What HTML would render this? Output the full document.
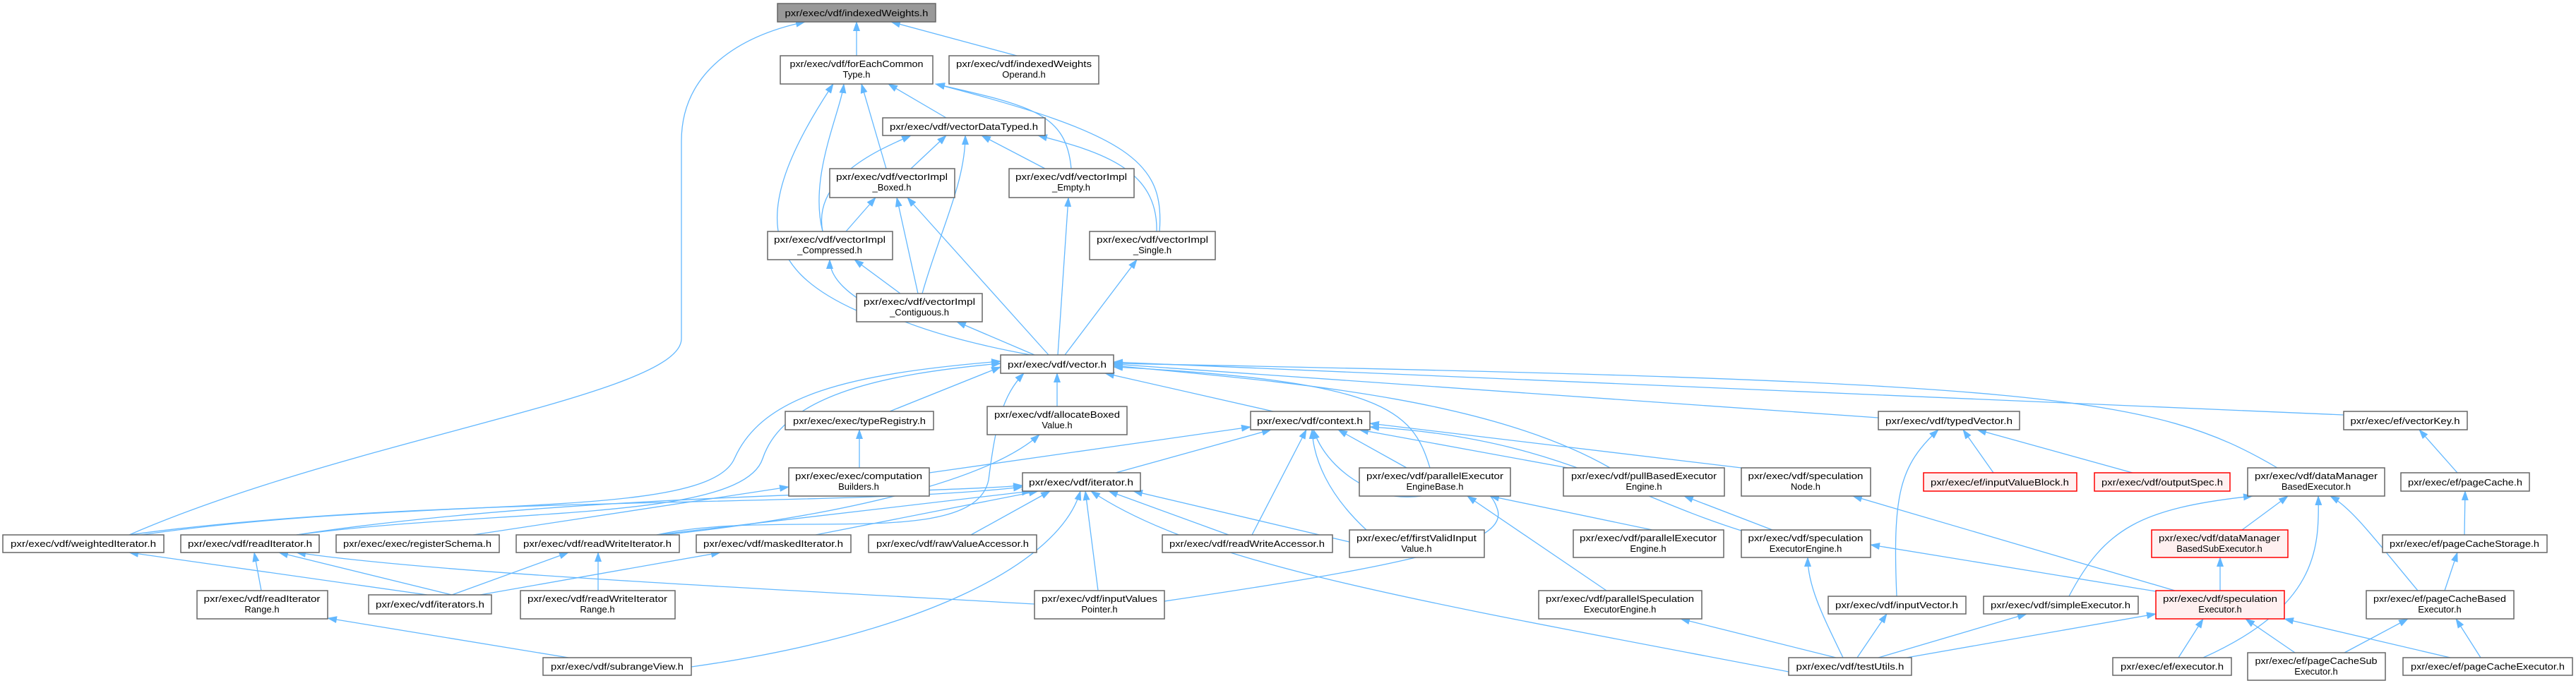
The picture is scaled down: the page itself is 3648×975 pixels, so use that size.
<!DOCTYPE html>
<html><head><meta charset="utf-8"><style>
html,body{margin:0;padding:0;background:#fff}
svg{display:block}
text{font-family:"Liberation Sans",sans-serif;font-size:13px;fill:#000}
.e{fill:none;stroke:#63b8ff;stroke-width:1.3}
.n{fill:#fff;stroke:#666;stroke-width:1.5}
.g{fill:#999;stroke:#666;stroke-width:1.5}
.r{fill:#fff0f0;stroke:#f00;stroke-width:1.5}
</style></head><body>
<svg width="3648" height="975" viewBox="0 0 3648 975" xmlns="http://www.w3.org/2000/svg">
<defs><marker id="a" markerWidth="14" markerHeight="10" refX="13" refY="5" orient="auto" markerUnits="userSpaceOnUse"><path d="M0,0 L14,5 L0,10 z" fill="#63b8ff"/></marker></defs>
<g class="e" marker-end="url(#a)">
<path d="M1213,79 L1213,31"/>
<path d="M1440,79 L1262,31"/>
<path d="M183,758 C500,620 965,560 965,480 L965,200 C965,100 1050,50 1140,31"/>
<path d="M1340,167 L1258,119"/>
<path d="M1255,239 L1220,119"/>
<path d="M1165,328 C1145,250 1190,160 1195,119"/>
<path d="M1213,440 C1080,380 1060,300 1180,119"/>
<path d="M1517,239 C1510,160 1460,150 1325,119"/>
<path d="M1642,328 C1650,230 1600,190 1325,119"/>
<path d="M1290,239 L1340,192"/>
<path d="M1480,239 L1390,192"/>
<path d="M1165,328 C1150,250 1250,210 1290,192"/>
<path d="M1306,416 C1330,330 1367,260 1367,192"/>
<path d="M1638,328 C1640,240 1560,215 1470,192"/>
<path d="M1198,328 L1240,280"/>
<path d="M1300,416 L1270,280"/>
<path d="M1485,503 L1285,280"/>
<path d="M1498,503 L1513,280"/>
<path d="M1275,416 L1210,368"/>
<path d="M1460,503 C1280,470 1175,420 1175,368"/>
<path d="M1508,503 L1610,368"/>
<path d="M1465,503 L1355,456"/>
<path d="M1260,583 L1417,520"/>
<path d="M1497,576 L1497,529"/>
<path d="M1803,583 L1565,529"/>
<path d="M200,758 C600,700 1000,740 1040,650 C1080,560 1200,530 1417,512"/>
<path d="M420,758 C700,720 1050,740 1080,650 C1110,560 1250,530 1417,515"/>
<path d="M930,758 C1100,720 1380,780 1400,680 C1410,600 1420,560 1450,529"/>
<path d="M2025,663 C2000,580 1960,540 1577,520"/>
<path d="M2280,663 C2100,560 1800,540 1577,518"/>
<path d="M2660,592 L1577,516"/>
<path d="M3225,663 C3050,560 2900,540 1577,515"/>
<path d="M3319,588 L1577,513"/>
<path d="M1316,670 L1771,605"/>
<path d="M1580,670 L1800,609"/>
<path d="M1773,758 L1850,609"/>
<path d="M1935,751 C1880,700 1860,650 1858,609"/>
<path d="M1992,663 L1895,609"/>
<path d="M2220,663 L1925,609"/>
<path d="M2466,663 L1940,600"/>
<path d="M2466,752 C2300,700 2200,620 1940,605"/>
<path d="M1649,852 C2000,800 2140,770 2120,720 C2100,660 2030,720 1960,700 C1900,680 1870,640 1860,609"/>
<path d="M183,758 C600,700 1200,720 1448,690"/>
<path d="M420,758 C800,700 1300,700 1448,688"/>
<path d="M930,758 L1460,696"/>
<path d="M1155,758 L1470,696"/>
<path d="M1375,758 L1487,696"/>
<path d="M1740,758 L1570,696"/>
<path d="M1911,768 L1605,696"/>
<path d="M1555,837 L1537,696"/>
<path d="M979,945 C1300,900 1500,800 1530,696"/>
<path d="M2533,952 C2000,850 1700,800 1545,696"/>
<path d="M1217,663 L1217,609"/>
<path d="M670,758 L1117,690"/>
<path d="M940,758 C1200,730 1400,680 1472,616"/>
<path d="M605,843 L183,783"/>
<path d="M640,843 L395,783"/>
<path d="M370,837 L360,783"/>
<path d="M1465,856 C1000,830 600,810 420,783"/>
<path d="M640,843 L805,783"/>
<path d="M847,837 L847,783"/>
<path d="M680,843 L1020,783"/>
<path d="M805,932 L464,876"/>
<path d="M2340,751 L2110,703"/>
<path d="M2275,837 L2078,703"/>
<path d="M2510,751 L2385,703"/>
<path d="M2600,932 L2380,877"/>
<path d="M3080,837 L2624,703"/>
<path d="M3053,838 L2649,772"/>
<path d="M2610,932 C2580,870 2560,830 2560,790"/>
<path d="M2823,670 L2780,609"/>
<path d="M3020,670 L2800,609"/>
<path d="M2686,845 C2680,700 2690,660 2745,609"/>
<path d="M2630,932 L2672,870"/>
<path d="M2660,932 L2870,870"/>
<path d="M2700,932 L3053,870"/>
<path d="M2930,845 C2980,750 3030,720 3190,703"/>
<path d="M3175,751 L3240,703"/>
<path d="M3120,932 C3280,860 3285,780 3283,703"/>
<path d="M3424,837 C3360,760 3330,720 3300,703"/>
<path d="M3144,837 L3144,790"/>
<path d="M3085,932 L3120,877"/>
<path d="M3250,925 L3180,877"/>
<path d="M3470,932 L3235,877"/>
<path d="M3320,925 L3410,877"/>
<path d="M3513,932 L3478,877"/>
<path d="M3462,837 L3480,783"/>
<path d="M3490,758 L3491,696"/>
<path d="M3480,670 L3426,609"/>
</g>
<!-- nodes -->
<g>
<rect class="g" x="1101" y="5" width="224" height="26"/><text x="1213" y="23" text-anchor="middle" textLength="203" lengthAdjust="spacingAndGlyphs">pxr/exec/vdf/indexedWeights.h</text>
<rect class="n" x="1105" y="79" width="216" height="40"/><text x="1213" y="95" text-anchor="middle" textLength="189" lengthAdjust="spacingAndGlyphs">pxr/exec/vdf/forEachCommon</text><text x="1213" y="110" text-anchor="middle">Type.h</text>
<rect class="n" x="1344" y="79" width="212" height="40"/><text x="1450" y="95" text-anchor="middle" textLength="192" lengthAdjust="spacingAndGlyphs">pxr/exec/vdf/indexedWeights</text><text x="1450" y="110" text-anchor="middle">Operand.h</text>
<rect class="n" x="1250" y="167" width="230" height="25"/><text x="1365" y="184" text-anchor="middle" textLength="210" lengthAdjust="spacingAndGlyphs">pxr/exec/vdf/vectorDataTyped.h</text>
<rect class="n" x="1175" y="239" width="177" height="41"/><text x="1263" y="255" text-anchor="middle" textLength="158" lengthAdjust="spacingAndGlyphs">pxr/exec/vdf/vectorImpl</text><text x="1263" y="270" text-anchor="middle">_Boxed.h</text>
<rect class="n" x="1429" y="239" width="177" height="41"/><text x="1517" y="255" text-anchor="middle" textLength="158" lengthAdjust="spacingAndGlyphs">pxr/exec/vdf/vectorImpl</text><text x="1517" y="270" text-anchor="middle">_Empty.h</text>
<rect class="n" x="1087" y="328" width="177" height="40"/><text x="1175" y="344" text-anchor="middle" textLength="158" lengthAdjust="spacingAndGlyphs">pxr/exec/vdf/vectorImpl</text><text x="1175" y="359" text-anchor="middle">_Compressed.h</text>
<rect class="n" x="1543" y="328" width="178" height="40"/><text x="1632" y="344" text-anchor="middle" textLength="158" lengthAdjust="spacingAndGlyphs">pxr/exec/vdf/vectorImpl</text><text x="1632" y="359" text-anchor="middle">_Single.h</text>
<rect class="n" x="1213" y="416" width="178" height="40"/><text x="1302" y="432" text-anchor="middle" textLength="158" lengthAdjust="spacingAndGlyphs">pxr/exec/vdf/vectorImpl</text><text x="1302" y="447" text-anchor="middle">_Contiguous.h</text>
<rect class="n" x="1417" y="503" width="160" height="26"/><text x="1497" y="521" text-anchor="middle" textLength="140" lengthAdjust="spacingAndGlyphs">pxr/exec/vdf/vector.h</text>
<rect class="n" x="1112" y="583" width="210" height="26"/><text x="1217" y="601" text-anchor="middle" textLength="188" lengthAdjust="spacingAndGlyphs">pxr/exec/exec/typeRegistry.h</text>
<rect class="n" x="1398" y="576" width="198" height="40"/><text x="1497" y="592" text-anchor="middle" textLength="178" lengthAdjust="spacingAndGlyphs">pxr/exec/vdf/allocateBoxed</text><text x="1497" y="607" text-anchor="middle">Value.h</text>
<rect class="n" x="1771" y="583" width="169" height="26"/><text x="1855" y="601" text-anchor="middle" textLength="150" lengthAdjust="spacingAndGlyphs">pxr/exec/vdf/context.h</text>
<rect class="n" x="2660" y="583" width="200" height="26"/><text x="2760" y="601" text-anchor="middle" textLength="180" lengthAdjust="spacingAndGlyphs">pxr/exec/vdf/typedVector.h</text>
<rect class="n" x="3319" y="583" width="175" height="26"/><text x="3406" y="601" text-anchor="middle" textLength="155" lengthAdjust="spacingAndGlyphs">pxr/exec/ef/vectorKey.h</text>
<rect class="n" x="1117" y="663" width="199" height="40"/><text x="1216" y="679" text-anchor="middle" textLength="180" lengthAdjust="spacingAndGlyphs">pxr/exec/exec/computation</text><text x="1216" y="694" text-anchor="middle">Builders.h</text>
<rect class="n" x="1448" y="670" width="167" height="26"/><text x="1531" y="688" text-anchor="middle" textLength="148" lengthAdjust="spacingAndGlyphs">pxr/exec/vdf/iterator.h</text>
<rect class="n" x="1925" y="663" width="214" height="40"/><text x="2032" y="679" text-anchor="middle" textLength="194" lengthAdjust="spacingAndGlyphs">pxr/exec/vdf/parallelExecutor</text><text x="2032" y="694" text-anchor="middle">EngineBase.h</text>
<rect class="n" x="2214" y="663" width="228" height="40"/><text x="2328" y="679" text-anchor="middle" textLength="206" lengthAdjust="spacingAndGlyphs">pxr/exec/vdf/pullBasedExecutor</text><text x="2328" y="694" text-anchor="middle">Engine.h</text>
<rect class="n" x="2466" y="663" width="183" height="40"/><text x="2557" y="679" text-anchor="middle" textLength="163" lengthAdjust="spacingAndGlyphs">pxr/exec/vdf/speculation</text><text x="2557" y="694" text-anchor="middle">Node.h</text>
<rect class="r" x="2724" y="670" width="217" height="26"/><text x="2832" y="688" text-anchor="middle" textLength="196" lengthAdjust="spacingAndGlyphs">pxr/exec/ef/inputValueBlock.h</text>
<rect class="r" x="2966" y="670" width="192" height="26"/><text x="3062" y="688" text-anchor="middle" textLength="172" lengthAdjust="spacingAndGlyphs">pxr/exec/vdf/outputSpec.h</text>
<rect class="n" x="3183" y="663" width="194" height="40"/><text x="3280" y="679" text-anchor="middle" textLength="174" lengthAdjust="spacingAndGlyphs">pxr/exec/vdf/dataManager</text><text x="3280" y="694" text-anchor="middle">BasedExecutor.h</text>
<rect class="n" x="3400" y="670" width="182" height="26"/><text x="3491" y="688" text-anchor="middle" textLength="162" lengthAdjust="spacingAndGlyphs">pxr/exec/ef/pageCache.h</text>
<rect class="n" x="4" y="758" width="228" height="25"/><text x="118" y="775" text-anchor="middle" textLength="206" lengthAdjust="spacingAndGlyphs">pxr/exec/vdf/weightedIterator.h</text>
<rect class="n" x="256" y="758" width="196" height="25"/><text x="354" y="775" text-anchor="middle" textLength="176" lengthAdjust="spacingAndGlyphs">pxr/exec/vdf/readIterator.h</text>
<rect class="n" x="476" y="758" width="231" height="25"/><text x="591" y="775" text-anchor="middle" textLength="210" lengthAdjust="spacingAndGlyphs">pxr/exec/exec/registerSchema.h</text>
<rect class="n" x="731" y="758" width="231" height="25"/><text x="846" y="775" text-anchor="middle" textLength="210" lengthAdjust="spacingAndGlyphs">pxr/exec/vdf/readWriteIterator.h</text>
<rect class="n" x="986" y="758" width="219" height="25"/><text x="1095" y="775" text-anchor="middle" textLength="198" lengthAdjust="spacingAndGlyphs">pxr/exec/vdf/maskedIterator.h</text>
<rect class="n" x="1230" y="758" width="238" height="25"/><text x="1349" y="775" text-anchor="middle" textLength="216" lengthAdjust="spacingAndGlyphs">pxr/exec/vdf/rawValueAccessor.h</text>
<rect class="n" x="1646" y="758" width="241" height="25"/><text x="1766" y="775" text-anchor="middle" textLength="220" lengthAdjust="spacingAndGlyphs">pxr/exec/vdf/readWriteAccessor.h</text>
<rect class="n" x="1911" y="751" width="191" height="39"/><text x="2006" y="767" text-anchor="middle" textLength="170" lengthAdjust="spacingAndGlyphs">pxr/exec/ef/firstValidInput</text><text x="2006" y="782" text-anchor="middle">Value.h</text>
<rect class="n" x="2228" y="751" width="213" height="39"/><text x="2334" y="767" text-anchor="middle" textLength="194" lengthAdjust="spacingAndGlyphs">pxr/exec/vdf/parallelExecutor</text><text x="2334" y="782" text-anchor="middle">Engine.h</text>
<rect class="n" x="2466" y="751" width="183" height="39"/><text x="2557" y="767" text-anchor="middle" textLength="163" lengthAdjust="spacingAndGlyphs">pxr/exec/vdf/speculation</text><text x="2557" y="782" text-anchor="middle">ExecutorEngine.h</text>
<rect class="r" x="3047" y="751" width="193" height="39"/><text x="3143" y="767" text-anchor="middle" textLength="172" lengthAdjust="spacingAndGlyphs">pxr/exec/vdf/dataManager</text><text x="3143" y="782" text-anchor="middle">BasedSubExecutor.h</text>
<rect class="n" x="3374" y="758" width="233" height="25"/><text x="3490" y="775" text-anchor="middle" textLength="212" lengthAdjust="spacingAndGlyphs">pxr/exec/ef/pageCacheStorage.h</text>
<rect class="n" x="279" y="837" width="185" height="40"/><text x="371" y="853" text-anchor="middle" textLength="165" lengthAdjust="spacingAndGlyphs">pxr/exec/vdf/readIterator</text><text x="371" y="868" text-anchor="middle">Range.h</text>
<rect class="n" x="522" y="843" width="174" height="27"/><text x="609" y="861" text-anchor="middle" textLength="154" lengthAdjust="spacingAndGlyphs">pxr/exec/vdf/iterators.h</text>
<rect class="n" x="737" y="837" width="219" height="40"/><text x="846" y="853" text-anchor="middle" textLength="198" lengthAdjust="spacingAndGlyphs">pxr/exec/vdf/readWriteIterator</text><text x="846" y="868" text-anchor="middle">Range.h</text>
<rect class="n" x="1465" y="837" width="184" height="40"/><text x="1557" y="853" text-anchor="middle" textLength="164" lengthAdjust="spacingAndGlyphs">pxr/exec/vdf/inputValues</text><text x="1557" y="868" text-anchor="middle">Pointer.h</text>
<rect class="n" x="2179" y="837" width="231" height="40"/><text x="2294" y="853" text-anchor="middle" textLength="210" lengthAdjust="spacingAndGlyphs">pxr/exec/vdf/parallelSpeculation</text><text x="2294" y="868" text-anchor="middle">ExecutorEngine.h</text>
<rect class="n" x="2589" y="845" width="195" height="25"/><text x="2686" y="862" text-anchor="middle" textLength="174" lengthAdjust="spacingAndGlyphs">pxr/exec/vdf/inputVector.h</text>
<rect class="n" x="2809" y="845" width="219" height="25"/><text x="2918" y="862" text-anchor="middle" textLength="198" lengthAdjust="spacingAndGlyphs">pxr/exec/vdf/simpleExecutor.h</text>
<rect class="r" x="3053" y="837" width="182" height="40"/><text x="3144" y="853" text-anchor="middle" textLength="162" lengthAdjust="spacingAndGlyphs">pxr/exec/vdf/speculation</text><text x="3144" y="868" text-anchor="middle">Executor.h</text>
<rect class="n" x="3351" y="837" width="209" height="40"/><text x="3455" y="853" text-anchor="middle" textLength="188" lengthAdjust="spacingAndGlyphs">pxr/exec/ef/pageCacheBased</text><text x="3455" y="868" text-anchor="middle">Executor.h</text>
<rect class="n" x="769" y="932" width="210" height="25"/><text x="874" y="949" text-anchor="middle" textLength="188" lengthAdjust="spacingAndGlyphs">pxr/exec/vdf/subrangeView.h</text>
<rect class="n" x="2533" y="932" width="174" height="25"/><text x="2620" y="949" text-anchor="middle" textLength="153" lengthAdjust="spacingAndGlyphs">pxr/exec/vdf/testUtils.h</text>
<rect class="n" x="2992" y="932" width="168" height="25"/><text x="3076" y="949" text-anchor="middle" textLength="146" lengthAdjust="spacingAndGlyphs">pxr/exec/ef/executor.h</text>
<rect class="n" x="3183" y="925" width="195" height="39"/><text x="3280" y="941" text-anchor="middle" textLength="173" lengthAdjust="spacingAndGlyphs">pxr/exec/ef/pageCacheSub</text><text x="3280" y="956" text-anchor="middle">Executor.h</text>
<rect class="n" x="3403" y="932" width="240" height="25"/><text x="3523" y="949" text-anchor="middle" textLength="218" lengthAdjust="spacingAndGlyphs">pxr/exec/ef/pageCacheExecutor.h</text>
</g>
</svg>
</body></html>
